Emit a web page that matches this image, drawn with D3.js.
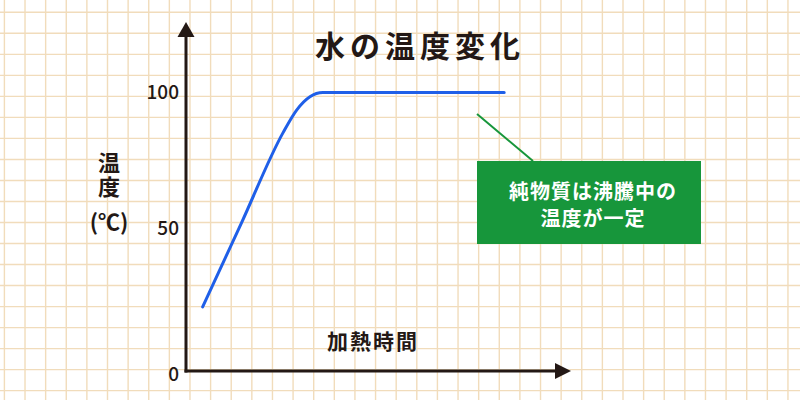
<!DOCTYPE html>
<html>
<head>
<meta charset="utf-8">
<script src="https://cdn.jsdelivr.net/npm/d3@7"></script>
<style>
  html, body { margin: 0; padding: 0; background: #fff; }
  svg { display: block; }
</style>
</head>
<body>
<div id="chart"></div>
<script>
// 加熱時間（任意単位）と温度
const timeValues = [0.9, 3, 5.24, 5.98, 6.7, 7.4, 17.2];
const tempValues = [23, 53.2, 85.5, 93.7, 98.5, 100, 100];
const yTicks = [0, 50, 100];
const title = "水の温度変化";
const xLabel = "加熱時間";
const yLabel = "温度";
const yUnit = "(℃)";
const noteLines = ["純物質は沸騰中の", "温度が一定"];

const width = 800, height = 400;
const font = "'Noto Sans CJK JP', 'Noto Sans', sans-serif";
const ink = "#231815";

const svg = d3.select("#chart").append("svg")
    .attr("width", width)
    .attr("height", height)
    .attr("viewBox", `0 0 ${width} ${height}`);

// 方眼紙の背景
const grid = svg.append("g");
const gx = d3.range(4.4, width, 20.62);
const gy = d3.range(12.3 - 21.02, height, 21.02);
grid.selectAll(".gv").data(gx).enter().append("line")
    .attr("x1", d => d).attr("x2", d => d)
    .attr("y1", 0).attr("y2", height)
    .attr("stroke", "#f1dcbb").attr("stroke-width", 1.4);
grid.selectAll(".gh").data(gy).enter().append("line")
    .attr("y1", d => d).attr("y2", d => d)
    .attr("x1", 0).attr("x2", width)
    .attr("stroke", "#f1dcbb").attr("stroke-width", 1.4);

// スケール
const x = d3.scaleLinear().domain([0, 20]).range([186, 556]);
const y = d3.scaleLinear().domain([0, 100]).range([371, 92.5]);

// 軸（矢印つき）
const ax = svg.append("g");
ax.append("line")
    .attr("x1", x(0)).attr("x2", x(0))
    .attr("y1", y(0) + 1.5).attr("y2", 34)
    .attr("stroke", ink).attr("stroke-width", 3);
ax.append("path")
    .attr("d", `M${x(0)},22 L${x(0) - 8.5},37 L${x(0) + 8.5},37 Z`)
    .attr("fill", ink);
ax.append("line")
    .attr("x1", x(0) - 1.5).attr("x2", 558)
    .attr("y1", y(0)).attr("y2", y(0))
    .attr("stroke", ink).attr("stroke-width", 3);
ax.append("path")
    .attr("d", `M571,${y(0)} L555,${y(0) - 8} L555,${y(0) + 8} Z`)
    .attr("fill", ink);

// 目盛りラベル
ax.selectAll(".tick").data(yTicks).enter().append("text")
    .attr("x", 179)
    .attr("y", d => y(d) + (d === 0 ? 1 : d === 50 ? -5 : -2))
    .attr("text-anchor", "end")
    .attr("dominant-baseline", "central")
    .attr("fill", ink)
    .style("font-family", font)
    .style("font-size", "19px")
    .style("font-weight", 500)
    .text(d => d);

// 温度の線
const pts = timeValues.map((t, i) => [t, tempValues[i]]);
svg.append("path")
    .datum(pts)
    .attr("fill", "none")
    .attr("stroke", "#1f5fe8")
    .attr("stroke-width", 3)
    .attr("stroke-linecap", "round")
    .attr("d", d3.line().x(d => x(d[0])).y(d => y(d[1])).curve(d3.curveMonotoneX));

// タイトル
svg.append("text")
    .attr("x", 420).attr("y", 44)
    .attr("text-anchor", "middle")
    .attr("dominant-baseline", "central")
    .attr("fill", ink)
    .style("font-family", font)
    .style("font-size", "30px")
    .style("font-weight", 700)
    .style("letter-spacing", "5px")
    .text(title);

// 軸ラベル
svg.append("text")
    .attr("x", 373).attr("y", 340)
    .attr("text-anchor", "middle")
    .attr("dominant-baseline", "central")
    .attr("fill", ink)
    .style("font-family", font)
    .style("font-size", "21px")
    .style("font-weight", 700)
    .style("letter-spacing", "2px")
    .text(xLabel);

// 縦書きの「温度」と単位
svg.append("text")
    .attr("x", 109).attr("y", 176)
    .attr("text-anchor", "middle")
    .attr("fill", ink)
    .style("writing-mode", "vertical-rl")
    .style("font-family", font)
    .style("font-size", "22px")
    .style("font-weight", 700)
    .style("letter-spacing", "2px")
    .text(yLabel);
svg.append("text")
    .attr("x", 109).attr("y", 220)
    .attr("text-anchor", "middle")
    .attr("dominant-baseline", "central")
    .attr("fill", ink)
    .style("font-family", font)
    .style("font-size", "22px")
    .style("font-weight", 700)
    .text(yUnit);

// 注記
const green = "#17963b";
svg.append("line")
    .attr("x1", 477).attr("y1", 114)
    .attr("x2", 533).attr("y2", 161)
    .attr("stroke", green).attr("stroke-width", 2);
svg.append("rect")
    .attr("x", 477).attr("y", 161)
    .attr("width", 224).attr("height", 83)
    .attr("fill", green);
svg.selectAll(".note").data(noteLines).enter().append("text")
    .attr("x", 593)
    .attr("y", (d, i) => 190 + i * 27)
    .attr("text-anchor", "middle")
    .attr("dominant-baseline", "central")
    .attr("fill", "#fff")
    .style("font-family", font)
    .style("font-size", "20px")
    .style("font-weight", 700)
    .style("letter-spacing", "1px")
    .text(d => d);
</script>
</body>
</html>
